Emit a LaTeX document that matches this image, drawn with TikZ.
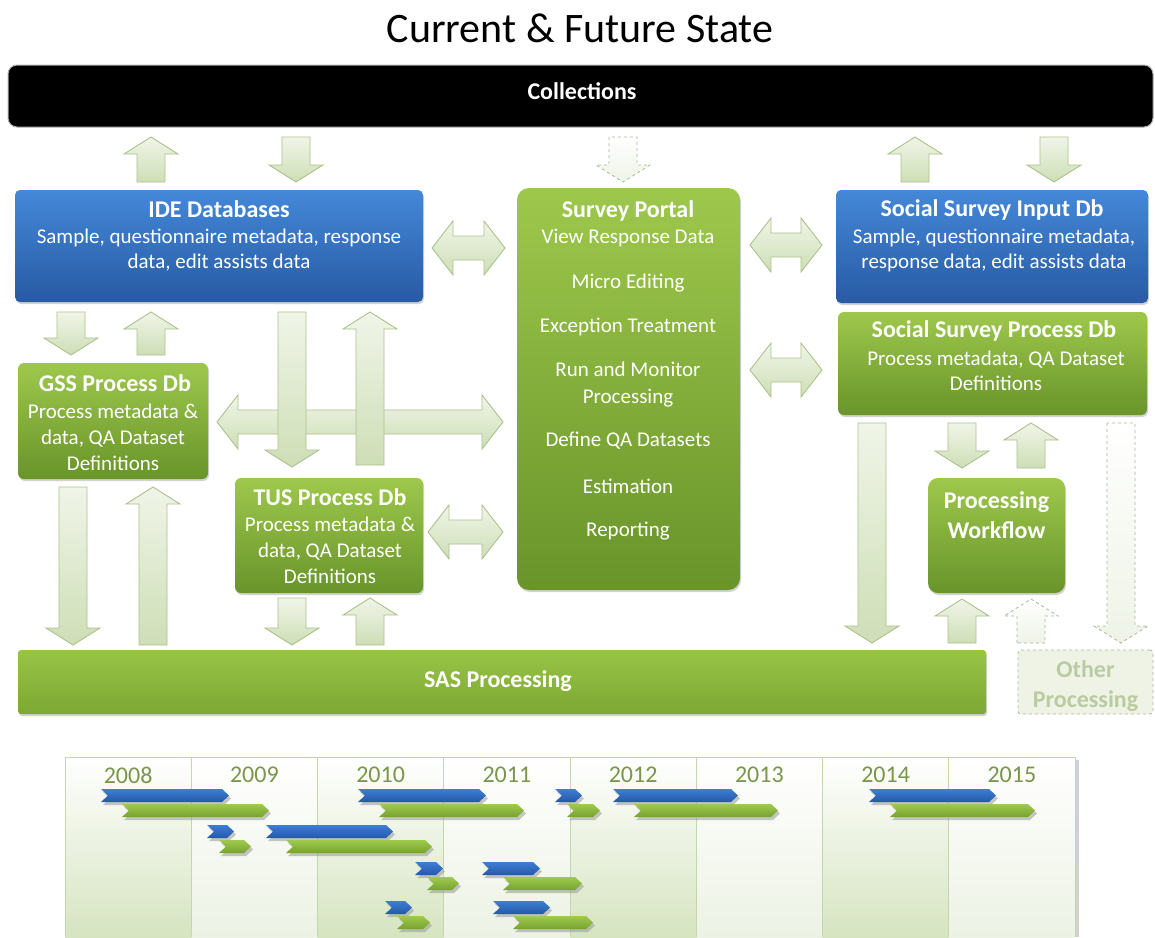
\documentclass[tikz,border=0pt]{standalone}
\usepackage{fontspec}
\setmainfont{Carlito}
\usetikzlibrary{shadows}
\definecolor{bluetop}{RGB}{68,136,216}
\definecolor{bluebot}{RGB}{40,90,163}
\definecolor{greentop}{RGB}{158,200,76}
\definecolor{greenbot}{RGB}{104,148,42}
\definecolor{sastop}{RGB}{152,196,70}
\definecolor{sasbot}{RGB}{124,168,52}
\definecolor{arrtop}{RGB}{240,245,232}
\definecolor{arrbot}{RGB}{206,222,182}
\definecolor{arrdraw}{RGB}{172,194,140}
\definecolor{dashfill}{RGB}{238,243,230}
\definecolor{dashdraw}{RGB}{170,182,158}
\definecolor{othertext}{RGB}{186,203,162}
\definecolor{yearcol}{RGB}{122,150,74}
\definecolor{colA}{RGB}{214,228,192}
\definecolor{colB}{RGB}{236,242,228}
\definecolor{sepcol}{RGB}{196,214,170}
\definecolor{gbtop}{RGB}{62,126,212}
\definecolor{gbbot}{RGB}{36,88,168}
\definecolor{ggtop}{RGB}{160,202,78}
\definecolor{ggbot}{RGB}{118,162,48}
\tikzset{
  arrsty/.style={draw=arrdraw, line width=0.9pt, top color=arrtop, bottom color=arrbot},
  dasharr/.style={draw=dashdraw, dashed, line width=0.8pt, top color=white, bottom color=dashfill},
  bluebox/.style={rounded corners=5pt, top color=bluetop, bottom color=bluebot, drop shadow={shadow xshift=1pt, shadow yshift=-2pt, opacity=0.35}},
  greenbox/.style={rounded corners=6pt, top color=greentop, bottom color=greenbot, drop shadow={shadow xshift=1pt, shadow yshift=-2pt, opacity=0.35}},
  ttl/.style={font=\fontsize{24}{30}\selectfont\bfseries, text=white, align=center, inner sep=0pt},
  bod/.style={font=\fontsize{21}{26}\selectfont, text=white, align=center, inner sep=0pt},
  yr/.style={font=\fontsize{24}{28}\selectfont, text=yearcol, inner sep=0pt},
}
\newcommand\varr[4][]{%
  \pgfmathsetmacro\vnk{#4+((#3>#4)?17:-17)}%
  \draw[arrsty,#1] (#2-14,#3) -- (#2-14,\vnk) -- (#2-27,\vnk) -- (#2,#4) -- (#2+27,\vnk) -- (#2+14,\vnk) -- (#2+14,#3) -- cycle;}
\newcommand\hdarr[4][]{%
  \draw[arrsty,#1] (#2,#4) -- (#2+21,#4-27) -- (#2+21,#4-12) -- (#3-21,#4-12) -- (#3-21,#4-27) -- (#3,#4) -- (#3-21,#4+27) -- (#3-21,#4+12) -- (#2+21,#4+12) -- (#2+21,#4+27) -- cycle;}
\newcommand\gbar[4]{%
  \fill[black!40,opacity=.55] (#2+2,#4+3) -- (#3-5,#4+3) -- (#3+2,#4+9.5) -- (#3-5,#4+16) -- (#2+2,#4+16) -- (#2+9,#4+9.5) -- cycle;
  \shade[top color=#1top, bottom color=#1bot] (#2,#4) -- (#3-7,#4) -- (#3,#4+6.5) -- (#3-7,#4+13) -- (#2,#4+13) -- (#2+7,#4+6.5) -- cycle;}
\begin{document}
\begin{tikzpicture}[x=1pt,y=-1pt]
\useasboundingbox (0,0) rectangle (1155,937);
\fill[white] (0,0) rectangle (1155,937);
% title
\node[font=\fontsize{42}{48}\selectfont, inner sep=0pt] (title) at (580,28) {Current \& Future State};
% collections bar
\node[rounded corners=9pt, fill=black, draw=black!30, line width=1pt, minimum width=1145pt, minimum height=62pt, inner sep=0pt] (coll) at (580.5,96) {};
\node[ttl] (collt) at (582,91) {Collections};
% boxes
\node[bluebox, minimum width=408pt, minimum height=112pt] (ide) at (219,246) {};
\node[ttl] (idet) at (219,209) {IDE Databases};
\node[bod, font=\fontsize{21}{24.5}\selectfont] (ideb) at (219,250) {Sample, questionnaire metadata, response\\data, edit assists data};

\node[greenbox, rounded corners=12pt, minimum width=223pt, minimum height=402pt] (sp) at (628.5,389) {};
\node[ttl] (spt) at (628,211) {Survey Portal};
\node[bod] (sp1) at (628,238) {View Response Data};
\node[bod] (sp2) at (628,283) {Micro Editing};
\node[bod] (sp3) at (628,327) {Exception Treatment};
\node[bod, font=\fontsize{21}{27}\selectfont] (sp4) at (628,384.5) {Run and Monitor\\Processing};
\node[bod] (sp5) at (628,441) {Define QA Datasets};
\node[bod] (sp6) at (628,486) {Estimation};
\node[bod] (sp7) at (628,531) {Reporting};

\node[bluebox, minimum width=312pt, minimum height=113pt] (ssi) at (992,246.5) {};
\node[ttl] (ssit) at (992,210) {Social Survey Input Db};
\node[bod, font=\fontsize{21}{25}\selectfont] (ssib) at (994,250.5) {Sample, questionnaire metadata,\\response data, edit assists data};

\node[greenbox, minimum width=309pt, minimum height=103pt] (ssp) at (992.5,363.5) {};
\node[ttl] (sspt) at (994,331) {Social Survey Process Db};
\node[bod, font=\fontsize{21}{25}\selectfont] (sspb) at (996,370.5) {Process metadata, QA Dataset\\Definitions};

\node[greenbox, minimum width=190pt, minimum height=116pt] (gss) at (113,421) {};
\node[ttl] (gsst) at (115,383) {GSS Process Db};
\node[bod] (gssb) at (113,437.5) {Process metadata \&\\data, QA Dataset\\Definitions};

\node[greenbox, minimum width=188pt, minimum height=115pt] (tus) at (329,535.5) {};
\node[ttl] (tust) at (330,497) {TUS Process Db};
\node[bod] (tusb) at (330,550.5) {Process metadata \&\\data, QA Dataset\\Definitions};

\node[greenbox, rounded corners=10pt, minimum width=137pt, minimum height=115pt] (wf) at (996.5,535.5) {};
\node[ttl] (wft) at (996.5,515) {Processing\\Workflow};

\node[rounded corners=3pt, top color=sastop, bottom color=sasbot, drop shadow={shadow xshift=1pt, shadow yshift=-2pt, opacity=0.35}, minimum width=968pt, minimum height=64pt] (sas) at (502,682) {};
\node[ttl] (sast) at (498,681) {SAS Processing};

\node[rounded corners=3pt, fill=dashfill, draw=dashdraw, dashed, line width=0.8pt, minimum width=135pt, minimum height=64pt] (oth) at (1085.5,682) {};
\begin{scope}
\clip (1018,650) rectangle (1153,714);
\node[ttl, text=othertext] (otht) at (1085.5,686) {Other\\Processing};
\end{scope}

% arrows: top row
\varr{151}{182}{137}
\varr{296}{137}{182}
\varr[dasharr]{623}{137}{182}
\varr{915}{182}{137}
\varr{1054}{137}{182}
% horizontal double arrows
\hdarr{432}{505}{248}
\hdarr{750}{822}{245}
\hdarr{750}{822}{370}
\hdarr{217}{503}{422}
\hdarr{428}{503}{532}
% IDE - GSS / TUS
\varr{71}{312}{355}
\varr{151}{355}{312}
\varr{292}{312}{467}
\varr{370}{465}{312}
% to SAS
\varr{73}{487}{645}
\varr{153}{645}{487}
\varr{292}{598}{645}
\varr{370}{645}{598}
% right side
\varr{872}{423}{643}
\varr{962}{423}{468}
\varr{1031}{468}{423}
\varr[dasharr]{1121}{423}{643}
\varr{962}{643}{599}
\varr[dasharr]{1031}{643}{599}

% timeline
\foreach \i in {0,2,4,6} \shade[top color=white, bottom color=colA] ({65+126.25*\i},757) rectangle ({65+126.25*(\i+1)},937);
\foreach \i in {1,3,5,7} \shade[top color=white, bottom color=colB] ({65+126.25*\i},757) rectangle ({65+126.25*(\i+1)},937);
\foreach \i in {1,...,7} \draw[sepcol, line width=0.8pt] ({65+126.25*\i},757) -- ({65+126.25*\i},937);
\fill[black!18] (1075,760) rectangle (1079,937);
\draw[sepcol, line width=0.8pt] (65,937) -- (65,757) -- (1075,757) -- (1075,937);
\foreach \i/\y in {0/2008,1/2009,2/2010,3/2011,4/2012,5/2013,6/2014,7/2015}
  \node[yr] (yr\y) at ({65+126.25*(\i+0.5)},775) {\y};
% gantt bars
\gbar{gb}{101}{229}{789}
\gbar{gg}{122}{269}{804}
\gbar{gb}{358}{486}{789}
\gbar{gg}{379}{524}{804}
\gbar{gb}{555}{582}{789}
\gbar{gg}{567}{600}{804}
\gbar{gb}{613}{738}{789}
\gbar{gg}{634}{778}{804}
\gbar{gb}{869}{996}{789}
\gbar{gg}{890}{1035}{804}
\gbar{gb}{207}{234}{825}
\gbar{gg}{219}{251}{840}
\gbar{gb}{266}{393}{825}
\gbar{gg}{286}{432}{840}
\gbar{gb}{415}{443}{862}
\gbar{gg}{427}{459}{877}
\gbar{gb}{482}{540}{862}
\gbar{gg}{503}{582}{877}
\gbar{gb}{385}{412}{901}
\gbar{gg}{397}{430}{916}
\gbar{gb}{493}{550}{901}
\gbar{gg}{513}{593}{916}
\end{tikzpicture}
\end{document}
